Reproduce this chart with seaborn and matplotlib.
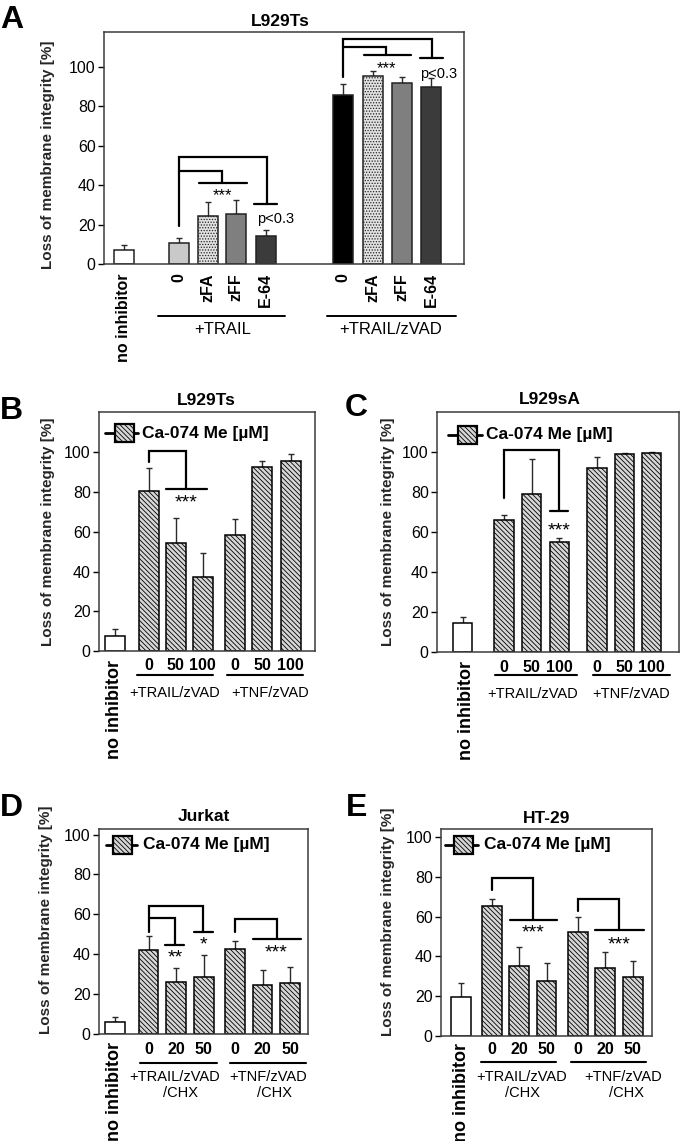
import matplotlib
matplotlib.use("Agg")
import matplotlib.pyplot as plt
import matplotlib.transforms as mtransforms
from matplotlib.patches import Rectangle
from matplotlib.lines import Line2D
import numpy as np
import pandas as pd
import seaborn as sns

# ---------------- data ----------------
# panel A: L929Ts, cathepsin inhibitors
a_cats = ["no inhibitor", "0", "zFA", "zFF", "E-64", "0", "zFA", "zFF", "E-64"]
a_mean = [6.9, 10.6, 24.1, 25.1, 14.0, 85.7, 95.1, 91.9, 89.6]
a_err = [2.7, 2.4, 7.4, 7.4, 3.2, 5.3, 2.5, 2.9, 4.7]
a_groups = ["+TRAIL", "+TRAIL/zVAD"]

# panels B-E: Ca-074 Me
bc_conc = ["0", "50", "100"]
de_conc = ["0", "20", "50"]
b_mean = [7.5, 80.4, 54.6, 37.4, 58.6, 92.5, 95.8]
b_err = [3.7, 11.7, 12.2, 11.7, 7.6, 3.0, 3.5]
c_mean = [14.7, 65.8, 79.0, 55.1, 91.8, 99.0, 99.3]
c_err = [2.7, 2.6, 17.5, 1.8, 5.4, 0.5, 0.4]
d_mean = [6.2, 41.9, 26.3, 28.8, 42.5, 24.6, 25.8]
d_err = [2.2, 7.0, 6.7, 10.6, 3.9, 7.6, 8.0]
e_mean = [19.5, 65.1, 35.4, 27.7, 52.5, 34.1, 29.4]
e_err = [7.0, 3.9, 9.1, 8.9, 7.2, 8.3, 8.4]
bc_groups = ["+TRAIL/zVAD", "+TNF/zVAD"]
de_groups = ["+TRAIL/zVAD", "+TNF/zVAD"]
legend_text = "Ca-074 Me [µM]"
ylabel = "Loss of membrane integrity [%]"

# ---------------- style ----------------
sns.set_style("ticks")
plt.rcParams["font.family"] = ["Liberation Sans", "DejaVu Sans"]
plt.rcParams["hatch.linewidth"] = 0.6
plt.rcParams["text.color"] = "black"

W, H = 680, 1141
fig = plt.figure(figsize=(W / 100, H / 100), dpi=100)
HATCH = "\\" * 7
HFACE = "#d6d6d6"


def add_panel(box):
    l, t, r, b = box
    return fig.add_axes([l / W, 1 - b / H, (r - l) / W, (b - t) / H])


def below(ax, px):
    return mtransforms.offset_copy(ax.get_xaxis_transform(), fig=fig, y=-px, units="dots")


def draw_bars(ax, pos, mean, err, width, faces, hatches, edge="black"):
    df = pd.DataFrame({"pos": pos, "val": mean})
    sns.barplot(data=df, x="pos", y="val", native_scale=True, width=width,
                errorbar=None, color="white", edgecolor=edge, linewidth=1.1,
                ax=ax, zorder=2)
    for p, fc, h in zip(ax.patches, faces, hatches):
        p.set_facecolor(fc)
        p.set_hatch(h)
    ax.errorbar(pos, mean, yerr=[np.zeros(len(mean)), err], fmt="none",
                ecolor="#2a2a2a", elinewidth=1.0, capsize=2.5, capthick=1.0, zorder=1)


def style_axes(ax, xlim, ylim, tick_fs):
    ax.set_xlim(xlim)
    ax.set_ylim(ylim)
    ax.set_xticks([])
    ax.set_yticks(range(0, 101, 20))
    ax.tick_params(axis="y", direction="out", length=4, width=1, labelsize=tick_fs,
                   pad=2, colors="black")
    for s in ax.spines.values():
        s.set_visible(True)
        s.set_color("#3c3c3c")
        s.set_linewidth(1.1)
    ax.set_xlabel("")


def bracket(ax, spec, fs):
    x0, y0, ytop, x1, y1, lo, hi, lab, lx, ly = spec
    ax.plot([x0, x0, x1, x1], [y0, ytop, ytop, y1], color="black", lw=1.6,
            solid_joinstyle="miter", clip_on=False, zorder=3)
    ax.plot([lo, hi], [y1, y1], color="black", lw=1.6, clip_on=False, zorder=3)
    ax.text(lx, ly, lab, ha="center", va="top", fontsize=fs)


# ---------------- panel A ----------------
axA = add_panel((104, 32, 464, 264))
a_pos = [0, 1.9, 2.92, 3.88, 4.9, 7.57, 8.6, 9.6, 10.6]
a_face = ["white", "#c9c9c9", "#e2e2e2", "#7f7f7f", "#3b3b3b",
          "black", "#e2e2e2", "#7f7f7f", "#3b3b3b"]
a_hatch = ["", "", "......", "", "", "", "......", "", ""]
draw_bars(axA, a_pos, a_mean, a_err, 0.72, a_face, a_hatch, edge="#222222")
style_axes(axA, (-0.68, 11.74), (0, 117.5), 11.5)
axA.set_ylabel(ylabel, fontsize=11, fontweight="bold")
axA.yaxis.set_label_coords(-0.136, 0.47)
axA.text(0.489, 1.047, "L929Ts", transform=axA.transAxes, ha="center", va="center",
         fontsize=12.5, fontweight="bold")
for x, lab in zip(a_pos, a_cats):
    axA.text(x, 0, lab, rotation=90, ha="center", va="top", fontsize=11.5,
             fontweight="bold", transform=below(axA, 9))
for (lo, hi), lab, cx in zip([(1.18, 5.58), (7.02, 11.48)], a_groups, [3.4, 9.2]):
    axA.plot([lo, hi], [0, 0], color="black", lw=1.4, transform=below(axA, 52), clip_on=False)
    axA.text(cx, 0, lab, ha="center", va="center", fontsize=12, transform=below(axA, 66))
a_brackets = [(1.9, 19, 54, 4.95, 30.3, 4.5, 5.3, "p<0.3", 5.25, 26.3),
              (1.9, 47.3, 47.3, 3.4, 41, 2.6, 4.25, "***", 3.4, 38.6),
              (7.57, 94.8, 113.8, 10.65, 104.4, 10.23, 11.0, "p<0.3", 10.88, 100.0),
              (7.57, 110, 110, 9.06, 105.6, 8.3, 9.9, "***", 9.06, 102.9)]
for spec in a_brackets:
    bracket(axA, spec, 12 if spec[7] == "***" else 10.5)
axA.set_xlim(-0.68, 11.74)
axA.set_ylim(0, 117.5)

# ---------------- panels B-E ----------------
panels = [
    dict(letter="B", box=(99, 412, 315, 651), title="L929Ts", title_xy=(0.498, 1.049),
         mean=b_mean, err=b_err, conc=bc_conc, groups=bc_groups,
         pos=[0, 1.25, 2.25, 3.25, 4.45, 5.45, 6.5], width=0.74,
         xlim=(-0.58, 7.4), ylim=(0, 120.3), ylab=(-0.204, 0.5),
         off=dict(noinh=9, num=15, line=24, grp=42, chx=0),
         lines=[(0.84, 3.64), (4.14, 6.95)], grp_x=[2.22, 5.74], chx_x=[],
         noinh_x=0.0,
         legend=(0.119, 0.912, 0.028, 0.181, 0.201),
         brackets=[(1.25, 95.1, 100.7, 2.65, 81.7, 1.88, 3.42, "***", 2.65, 78.6)],
         letter_xy=(0, 396)),
    dict(letter="C", box=(437, 412, 679, 652), title="L929sA", title_xy=(0.467, 1.05),
         mean=c_mean, err=c_err, conc=bc_conc, groups=bc_groups,
         pos=[0, 1.5, 2.5, 3.5, 4.87, 5.87, 6.85], width=0.71,
         xlim=(-0.93, 7.84), ylim=(0, 119.9), ylab=(-0.174, 0.5),
         off=dict(noinh=9, num=15, line=23, grp=42, chx=0),
         lines=[(1.19, 4.13), (4.73, 7.5)], grp_x=[2.54, 6.12], chx_x=[],
         noinh_x=0.15,
         legend=(0.128, 0.905, 0.044, 0.188, 0.203),
         brackets=[(1.5, 76.8, 100.7, 3.49, 70.6, 3.17, 3.83, "***", 3.5, 64.8)],
         letter_xy=(345, 393)),
    dict(letter="D", box=(99, 829, 308, 1034), title="Jurkat", title_xy=(0.5, 1.062),
         mean=d_mean, err=d_err, conc=de_conc, groups=de_groups,
         pos=[0, 1.22, 2.22, 3.22, 4.35, 5.35, 6.35], width=0.71,
         xlim=(-0.58, 7.0), ylim=(0, 102.8), ylab=(-0.22, 0.556),
         off=dict(noinh=8, num=16, line=29, grp=43, chx=59),
         lines=[(0.92, 3.69), (4.17, 6.94)], grp_x=[2.18, 5.57], chx_x=[2.39, 5.8],
         noinh_x=0.0,
         legend=(0.113, 0.923, 0.032, 0.184, 0.21),
         brackets=[(1.22, 51.4, 64, 3.2, 51.3, 2.88, 3.54, "*", 3.2, 48.9),
                   (1.22, 58, 58, 2.18, 44.7, 1.83, 2.52, "**", 2.18, 42.2),
                   (4.35, 51.4, 57.6, 5.86, 47.4, 5.01, 6.76, "***", 5.86, 44.7)],
         letter_xy=(0, 793)),
    dict(letter="E", box=(441, 829, 652, 1036), title="HT-29", title_xy=(0.502, 1.053),
         mean=e_mean, err=e_err, conc=de_conc, groups=de_groups,
         pos=[0, 1.12, 2.12, 3.12, 4.26, 5.27, 6.28], width=0.73,
         xlim=(-0.74, 6.98), ylim=(0, 104), ylab=(-0.218, 0.55),
         off=dict(noinh=7, num=14, line=26, grp=41, chx=57),
         lines=[(0.72, 3.48), (4.01, 6.77)], grp_x=[2.2, 5.91], chx_x=[2.26, 6.04],
         noinh_x=0.0,
         legend=(0.107, 0.924, 0.02, 0.174, 0.202),
         brackets=[(1.12, 73.2, 79.4, 2.62, 58.4, 1.77, 3.5, "***", 2.62, 55.9),
                   (4.26, 62.6, 68.8, 5.79, 53.4, 4.9, 6.7, "***", 5.79, 50.0)],
         letter_xy=(346, 793)),
]

for p in panels:
    ax = add_panel(p["box"])
    l, t, r, b = p["box"]
    aw, ah = r - l, b - t
    faces = ["white"] + [HFACE] * 6
    hatches = [""] + [HATCH] * 6
    draw_bars(ax, p["pos"], p["mean"], p["err"], p["width"], faces, hatches)
    style_axes(ax, p["xlim"], p["ylim"], 11.5)
    ax.set_ylabel(ylabel, fontsize=11, fontweight="bold")
    ax.yaxis.set_label_coords(*p["ylab"])
    ax.text(p["title_xy"][0], p["title_xy"][1], p["title"], transform=ax.transAxes,
            ha="center", va="center", fontsize=12.5, fontweight="bold")

    # x annotations below the axis
    off = p["off"]
    ax.text(p["noinh_x"], 0, "no inhibitor", rotation=90, ha="center", va="top",
            fontsize=13, fontweight="bold", transform=below(ax, off["noinh"]))
    for x, lab in zip(p["pos"][1:], p["conc"] * 2):
        ax.text(x, 0, lab, ha="center", va="center", fontsize=11.5, fontweight="bold",
                transform=below(ax, off["num"]))
    for (lo, hi), lab, gx in zip(p["lines"], p["groups"], p["grp_x"]):
        ax.plot([lo, hi], [0, 0], color="black", lw=1.5, transform=below(ax, off["line"]),
                clip_on=False)
        ax.text(gx, 0, lab, ha="center", va="center", fontsize=10.5,
                transform=below(ax, off["grp"]))
    for cx in p["chx_x"]:
        ax.text(cx, 0, "/CHX", ha="center", va="center", fontsize=10.5,
                transform=below(ax, off["chx"]))

    # legend: hatched square on a line
    sx, sy, lx0, lx1, tx = p["legend"]
    ax.add_line(Line2D([lx0, lx1], [sy, sy], transform=ax.transAxes, color="black",
                       lw=2.0, zorder=4))
    sw, sh = 19 / aw, 18 / ah
    ax.add_patch(Rectangle((sx - sw / 2, sy - sh / 2), sw, sh, transform=ax.transAxes,
                           facecolor=HFACE, edgecolor="black", hatch=HATCH, lw=1.6, zorder=5))
    ax.text(tx, sy, legend_text, transform=ax.transAxes, ha="left", va="center",
            fontsize=12.5, fontweight="bold")

    for spec in p["brackets"]:
        bracket(ax, spec, 14)
    ax.set_xlim(p["xlim"])
    ax.set_ylim(p["ylim"])

    fig.text(p["letter_xy"][0] / W, 1 - p["letter_xy"][1] / H, p["letter"],
             fontsize=23, fontweight="bold", ha="left", va="top")

fig.text(0, 1 - 5 / H, "A", fontsize=23, fontweight="bold", ha="left", va="top")

fig.savefig("out.png", dpi=100)
